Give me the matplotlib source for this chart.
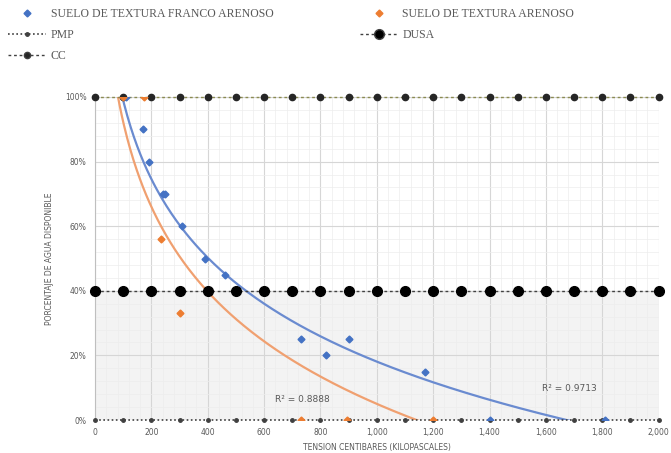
import numpy as np
import matplotlib.pyplot as plt
from matplotlib.ticker import MultipleLocator, FuncFormatter
from matplotlib.lines import Line2D

# datos (tension en centibares, % de agua disponible)
franco_x = [110, 170, 190, 240, 250, 310, 390, 460, 730, 820, 900, 1170, 1400, 1810]
franco_y = [100, 90, 80, 70, 70, 60, 50, 45, 25, 20, 25, 15, 0, 0]
arenoso_x = [100, 175, 235, 300, 730, 895, 1200]
arenoso_y = [100, 100, 56, 33, 0, 0, 0]

# puntos leidos sobre las lineas de tendencia del grafico
tend_franco_x = [112, 158, 274, 519, 993, 1712]
tend_franco_y = [100, 80, 60, 40, 20, 0]
tend_arenoso_x = [88, 211, 400, 649, 1210]
tend_arenoso_y = [100, 60, 40, 20, 0]

linea_x = list(range(0, 2001, 100))
nivel_cc = 100
nivel_dusa = 40
nivel_pmp = 0

r2_franco = "R² = 0.9713"
r2_arenoso = "R² = 0.8888"

AZUL = "#4472c4"
NARANJA = "#ed7d31"
GRIS = "#595959"

fig = plt.figure(figsize=(6.71, 4.53), dpi=100)
ax = fig.add_axes([0.1416, 0.0728, 0.84, 0.7131])

ax.axhspan(0, 40, color="#f3f3f3", zorder=0)

# lineas de referencia
n = len(linea_x)
ax.plot(linea_x, [nivel_pmp] * n, ls=(0, (1, 1.5)), color="#404040", lw=1.2,
        marker="o", ms=2.5, mfc="#404040", mec="#404040", zorder=3, clip_on=False)
ax.plot(linea_x, [nivel_dusa] * n, ls=(0, (2, 2)), color="#404040", lw=1.0,
        marker="o", ms=7, mfc="black", mec="black", zorder=3, clip_on=False)
ax.plot(linea_x, [nivel_cc] * n, ls=(0, (2, 2)), color="#8a8a50", lw=1.0,
        marker="o", ms=4.5, mfc="#262626", mec="#262626", zorder=3, clip_on=False)

# lineas de tendencia logaritmicas
for xs, ys, x_fin, col in [(tend_franco_x, tend_franco_y, max(franco_x), "#6a8bd0"),
                           (tend_arenoso_x, tend_arenoso_y, max(arenoso_x), "#f0a070")]:
    a, b = np.polyfit(np.log(xs), ys, 1)
    xt = np.linspace(80, x_fin, 300)
    ax.plot(xt, a * np.log(xt) + b, color=col, lw=1.6, zorder=2)

ax.plot(franco_x, franco_y, ls="none", marker="D", ms=3.5, color=AZUL, zorder=4)
ax.plot(arenoso_x, arenoso_y, ls="none", marker="D", ms=3.5, color=NARANJA, zorder=4)

ax.text(1684, 9.9, r2_franco, fontsize=6.5, color=GRIS, ha="center", va="center")
ax.text(737, 6.2, r2_arenoso, fontsize=6.5, color=GRIS, ha="center", va="center")

ax.set_xlim(0, 2000)
ax.set_ylim(0, 100)
ax.xaxis.set_major_locator(MultipleLocator(200))
ax.xaxis.set_minor_locator(MultipleLocator(40))
ax.yaxis.set_major_locator(MultipleLocator(20))
ax.yaxis.set_minor_locator(MultipleLocator(4))
ax.xaxis.set_major_formatter(FuncFormatter(lambda v, p: f"{v:,.0f}"))
ax.yaxis.set_major_formatter(FuncFormatter(lambda v, p: f"{v:.0f}%"))
ax.grid(which="major", color="#d6d6d6", lw=0.8)
ax.grid(which="minor", color="#ededed", lw=0.5)
ax.set_axisbelow(True)
ax.tick_params(which="both", length=0, labelsize=5.5, labelcolor=GRIS, pad=6)
for s in ["top", "right", "bottom"]:
    ax.spines[s].set_visible(False)
ax.spines["left"].set_color("#bfbfbf")

ax.set_xlabel("TENSION CENTIBARES (KILOPASCALES)", fontsize=5.5, color=GRIS, labelpad=4)
ax.set_ylabel("PORCENTAJE DE AGUA DISPONIBLE", fontsize=5.5, color=GRIS, labelpad=8)

# leyenda
h_franco = Line2D([], [], ls="none", marker="D", ms=3.5, color=AZUL)
h_arenoso = Line2D([], [], ls="none", marker="D", ms=3.5, color=NARANJA)
h_pmp = Line2D([], [], ls=(0, (1, 1.5)), color="#404040", lw=1.2, marker="o", ms=2.5)
h_dusa = Line2D([], [], ls=(0, (2, 2)), color="#404040", lw=1.0, marker="o", ms=7, mfc="black")
h_cc = Line2D([], [], ls=(0, (2, 2)), color="#404040", lw=1.0, marker="o", ms=4.5, mfc="#262626")
leg = fig.legend([h_franco, h_pmp, h_cc, h_arenoso, h_dusa],
                 ["SUELO DE TEXTURA FRANCO ARENOSO", "PMP", "CC",
                  "SUELO DE TEXTURA ARENOSO", "DUSA"],
                 ncol=2, loc="upper left", bbox_to_anchor=(0.0, 1.0), frameon=False,
                 prop={"family": "Liberation Serif", "size": 8.5},
                 labelcolor=GRIS, handlelength=3.2, handletextpad=0.4,
                 columnspacing=7.3, labelspacing=0.75, borderaxespad=0.3)

fig.savefig("out.png", dpi=100)
